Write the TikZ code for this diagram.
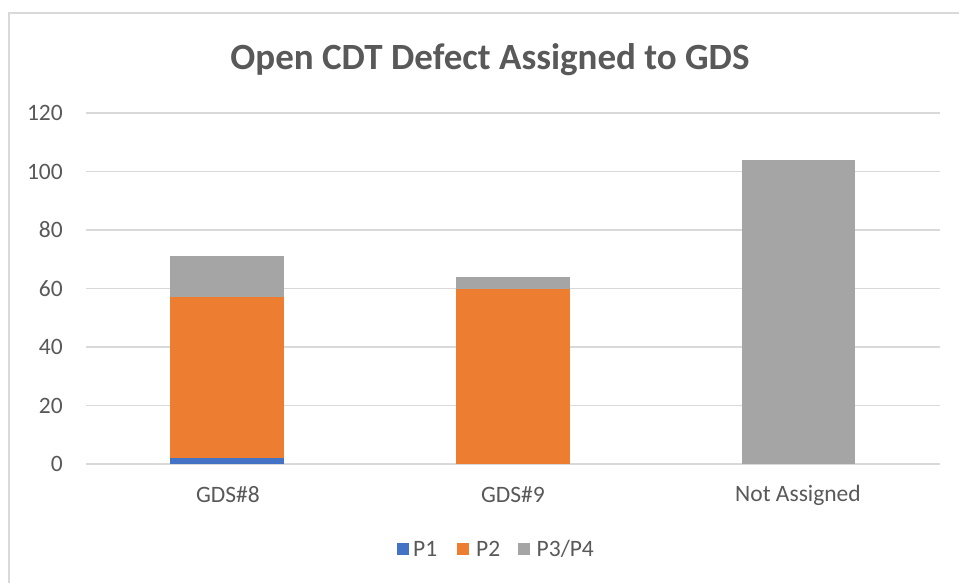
\documentclass[tikz,border=0pt]{standalone}
\usepackage{fontspec}
\setmainfont{Carlito}
\definecolor{txt}{HTML}{595959}
\definecolor{grid}{HTML}{D9D9D9}
\definecolor{pone}{HTML}{4472C4}
\definecolor{ptwo}{HTML}{ED7D31}
\definecolor{pthree}{HTML}{A5A5A5}
\begin{document}
\begin{tikzpicture}[x=1pt,y=-1pt,
  gridline/.style={draw=grid,line width=1.5pt},
  ylab/.style={anchor=east,text=txt,font=\fontsize{23.5}{26}\selectfont,inner sep=0pt},
  xlab/.style={anchor=center,text=txt,font=\fontsize{23.5}{26}\selectfont,inner sep=0pt},
  legsq/.style={minimum size=12pt,inner sep=0pt,anchor=center},
  legtxt/.style={anchor=west,text=txt,font=\fontsize{23.5}{26}\selectfont,inner sep=0pt},
  bar/.style={draw=none}]
\useasboundingbox (0,0) rectangle (959,583);
\fill[white] (0,0) rectangle (959,583);
% frame
\draw[draw=grid,line width=2pt] (9,583) -- (9,13) -- (959,13);
% title
\node[text=txt,font=\fontsize{37}{40}\selectfont\bfseries,inner sep=0pt] (title) at (490,60) {Open CDT Defect Assigned to GDS};
% gridlines and y labels
\foreach \v/\n in {0/g0,20/g20,40/g40,60/g60,80/g80,100/g100,120/g120}{
  \coordinate (\n a) at (86,464-2.925*\v);
  \coordinate (\n b) at (940,464-2.925*\v);
  \draw[gridline] (\n a) -- (\n b);
  \node[ylab] (\n l) at (63,464-2.925*\v) {\v};
}
% bars GDS#8
\fill[pone] (170,464) rectangle (284,464-2.925*2);
\fill[ptwo] (170,464-2.925*2) rectangle (284,464-2.925*57);
\fill[pthree] (170,464-2.925*57) rectangle (284,464-2.925*71);
% bars GDS#9
\fill[ptwo] (456,464) rectangle (570,464-2.925*60);
\fill[pthree] (456,464-2.925*60) rectangle (570,464-2.925*64);
% Not Assigned
\fill[pthree] (742,464) rectangle (855,464-2.925*104);
% x labels
\node[xlab] (c1) at (228,495) {GDS\#8};
\node[xlab] (c2) at (513,495) {GDS\#9};
\node[xlab] (c3) at (798,495) {Not Assigned};
% legend
\node[legsq,fill=pone] (s1) at (403,549) {};
\node[legtxt] (t1) at (413,549) {P1};
\node[legsq,fill=ptwo] (s2) at (462.5,549) {};
\node[legtxt] (t2) at (476,549) {P2};
\node[legsq,fill=pthree] (s3) at (523.5,549) {};
\node[legtxt] (t3) at (536.5,549) {P3/P4};
\end{tikzpicture}
\end{document}
